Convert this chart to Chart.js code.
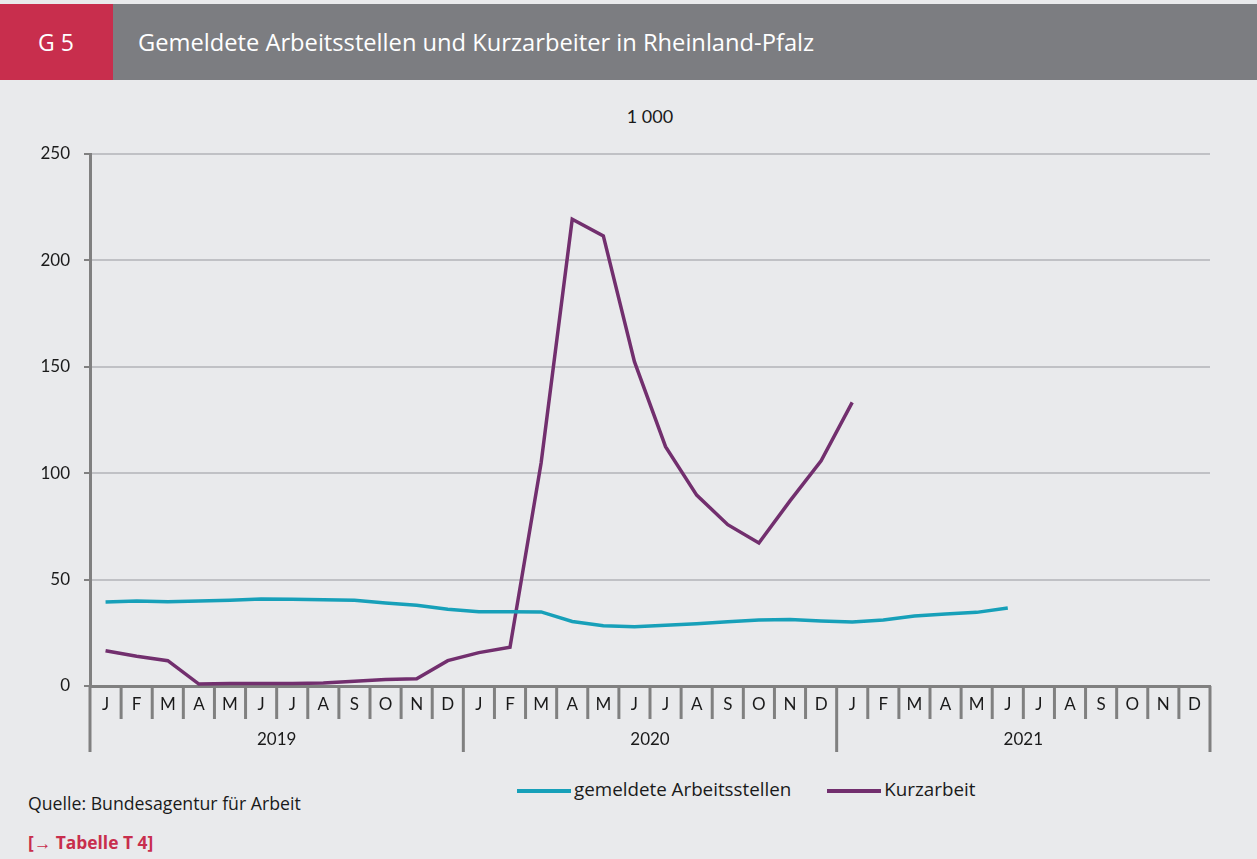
<!DOCTYPE html>
<html>
<head>
<meta charset="utf-8">
<script src="https://cdn.jsdelivr.net/npm/chart.js@4.4.1/dist/chart.umd.min.js"></script>
<style>
  html, body { margin: 0; padding: 0; }
  body { width: 1257px; height: 859px; background: #e9eaec; position: relative; overflow: hidden; font-family: 'Open Sans', sans-serif; }
  #head { position: absolute; left: 0; top: 4px; width: 1257px; height: 76px; background: #7c7d81; }
  #num { position: absolute; left: 0; top: 0; width: 113px; height: 76px; background: #c82e4d; color: #fff; font-size: 23px; line-height: 76px; text-indent: 38px; }
  #title { position: absolute; left: 138px; top: 0; line-height: 76px; color: #fff; font-size: 23.7px; }
  #unit { position: absolute; left: 0; width: 1300px; top: 105px; text-align: center; font-size: 18px; color: #1a1a1a; font-family: Lato, sans-serif; }
  #legend { position: absolute; top: 776px; left: 517px; font-size: 18.8px; color: #1a1a1a; white-space: nowrap; }
  #legend span.ln { display: inline-block; width: 54px; height: 4px; vertical-align: middle; margin-right: 3px; }
  #legend span.it { margin-right: 36px; }
  #src { position: absolute; left: 28px; top: 791px; font-size: 17.7px; color: #1a1a1a; }
  #tab { position: absolute; left: 28px; top: 830px; font-size: 17.4px; font-weight: bold; color: #c82e4d; }
  canvas { position: absolute; left: 0; top: 0; }
</style>
</head>
<body>
<div id="head"><div id="num">G 5</div><div id="title">Gemeldete Arbeitsstellen und Kurzarbeiter in Rheinland-Pfalz</div></div>
<div id="unit">1 000</div>
<div id="legend"><span class="ln" style="background:#17a0b9"></span><span class="it">gemeldete Arbeitsstellen</span><span class="ln" style="background:#722f6e"></span><span>Kurzarbeit</span></div>
<div id="src">Quelle: Bundesagentur für Arbeit</div>
<div id="tab">[→ Tabelle T 4]</div>
<canvas id="c" width="1257" height="859"></canvas>
<script>
// Monatsbuchstaben und Jahre der x-Achse
const monthLetters = ['J','F','M','A','M','J','J','A','S','O','N','D'];
const years = ['2019', '2020', '2021'];
const labels = [].concat(monthLetters, monthLetters, monthLetters);

// gemeldete Arbeitsstellen (1 000), Jan 2019 bis Jun 2021
const arbeitsstellen = [
  39.5, 39.9, 39.6, 40.0, 40.3, 40.9, 40.8, 40.5, 40.3, 39.0, 37.9, 36.1,
  34.9, 34.9, 34.8, 30.3, 28.3, 27.9, 28.6, 29.3, 30.2, 31.0, 31.2, 30.5,
  30.1, 31.0, 32.9, 33.8, 34.6, 36.7
];

// Kurzarbeit (1 000), Jan 2019 bis Jan 2021
const kurzarbeit = [
  16.6, 14.0, 11.9, 0.9, 1.2, 1.2, 1.2, 1.4, 2.2, 3.0, 3.4, 11.9,
  15.7, 18.2, 104.8, 219.3, 211.5, 152.4, 112.5, 89.7, 75.8, 67.2, 87.0, 105.8,
  133.3
];

const yTicks = [0, 50, 100, 150, 200, 250];

const axisGrey = '#808080';

// Trennstriche zwischen den Monaten und Jahresbeschriftung
const monthSeparators = {
  id: 'monthSeparators',
  afterDraw(chart) {
    const x = chart.scales.x;
    const ctx = chart.ctx;
    const base = chart.chartArea.bottom;
    const step = x.getPixelForValue(1) - x.getPixelForValue(0);
    ctx.save();
    ctx.strokeStyle = axisGrey;
    ctx.lineWidth = 3;
    for (let i = 0; i <= labels.length; i++) {
      const px = x.getPixelForValue(i) - step / 2;
      const len = (i % 12 === 0) ? 66 : 33;
      ctx.beginPath();
      ctx.moveTo(px, base);
      ctx.lineTo(px, base + len);
      ctx.stroke();
    }
    ctx.fillStyle = '#1a1a1a';
    ctx.font = '17px Lato, sans-serif';
    ctx.textAlign = 'center';
    ctx.textBaseline = 'middle';
    years.forEach((yr, k) => {
      const mid = (x.getPixelForValue(k * 12) + x.getPixelForValue(k * 12 + 11)) / 2;
      ctx.fillText(yr, mid, base + 54);
    });
    ctx.restore();
  }
};

new Chart(document.getElementById('c'), {
  type: 'line',
  data: {
    labels: labels,
    datasets: [{
      label: 'gemeldete Arbeitsstellen',
      data: arbeitsstellen,
      borderColor: '#17a0b9',
      borderWidth: 3.5,
      pointRadius: 0,
      tension: 0
    }, {
      label: 'Kurzarbeit',
      data: kurzarbeit,
      borderColor: '#722f6e',
      borderWidth: 3.5,
      pointRadius: 0,
      tension: 0
    }]
  },
  options: {
    responsive: false,
    animation: false,
    layout: { padding: { top: 154, right: 47, left: 0, bottom: 0 } },
    plugins: { legend: { display: false }, tooltip: { enabled: false } },
    scales: {
      x: {
        offset: true,
        grid: { display: false, drawTicks: false },
        border: { color: axisGrey, width: 3 },
        ticks: { autoSkip: false, maxRotation: 0, padding: 8, color: '#1a1a1a', font: { family: 'Lato', size: 17 } },
        afterFit(s) { s.height = 173; }
      },
      y: {
        min: 0,
        max: 250,
        afterBuildTicks(s) { s.ticks = yTicks.map(v => ({ value: v })); },
        grid: { color: '#c0c1c5', lineWidth: 2, tickLength: 6, tickColor: axisGrey, tickWidth: 2 },
        border: { color: axisGrey, width: 3 },
        ticks: { padding: 14, color: '#1a1a1a', font: { family: 'Lato', size: 17 } },
        afterFit(s) { s.width = 90; }
      }
    }
  },
  plugins: [monthSeparators]
});
</script>
</body>
</html>
